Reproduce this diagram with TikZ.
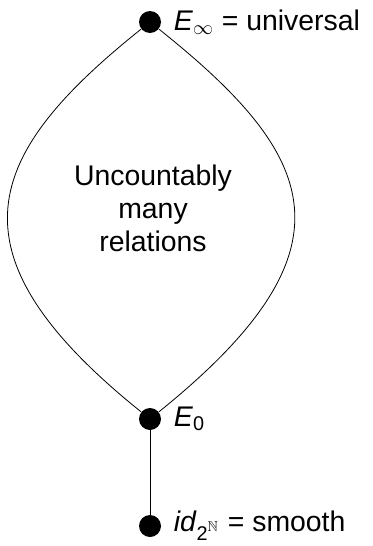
\documentclass[tikz,border=0pt]{standalone}
\usepackage{amsmath,amssymb}
\usepackage{fontspec}
\setmainfont{Liberation Sans}
\usetikzlibrary{positioning}

\begin{document}
\begin{tikzpicture}[
  x=0.5pt, y=-0.5pt,
  node distance=5pt,
  every node/.style={font=\fontsize{14.2}{16.5}\selectfont},
  dotnode/.style={circle, fill=black, inner sep=0pt, minimum size=11pt},
  dotlabel/.style={inner sep=1pt, anchor=west},
  blobtext/.style={align=center, inner sep=0pt},
  edge/.style={draw=black, line width=0.4pt}
]
  \useasboundingbox (0,0) rectangle (372,546);

  \node[dotnode] (Einf) at (150,22) {};
  \node[dotnode] (Ezero) at (150,419) {};
  \node[dotnode] (smooth) at (150,526) {};

  \node[dotlabel, right=of Einf] (EinfLbl) {\textit{E}$_\infty$ = universal};
  \node[dotlabel, right=of Ezero] (EzeroLbl) {\textit{E}$_{\text{0}}$};
  \node[dotlabel, right=of smooth] (smoothLbl) {\textit{id}$_{\text{2}^{\mathbb{N}}}$ = smooth};

  \node[blobtext] (many) at (153,208) {Uncountably\\many\\relations};

  \draw[edge] (Einf) .. controls (-15,154) and (-58,252) .. (Ezero);
  \draw[edge] (Einf) .. controls (318,156) and (361,249) .. (Ezero);
  \draw[edge] (Ezero) -- (smooth);
\end{tikzpicture}
\end{document}
